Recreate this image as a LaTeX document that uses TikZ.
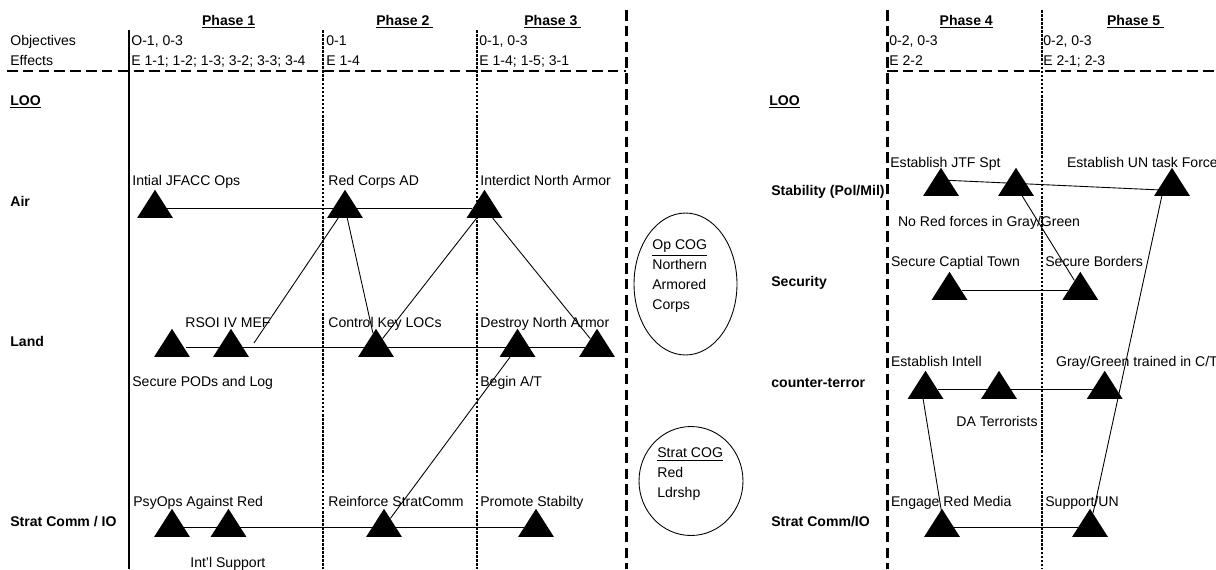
\documentclass[tikz,border=0pt]{standalone}
\usepackage{fontspec}
\setmainfont{Liberation Sans}
\usetikzlibrary{calc,shapes.geometric}

\begin{document}
\begin{tikzpicture}[x=0.02cm,y=-0.02cm,font=\fontsize{8pt}{11.4pt}\selectfont]

% ----------------------------
% Styles
% ----------------------------
\tikzset{
	txt/.style={anchor=base west,inner sep=0pt},
	rowlbl/.style={txt,font=\fontsize{8pt}{11.4pt}\selectfont\bfseries},
	tri/.style={isosceles triangle,isosceles triangle apex angle=65,shape border rotate=90,
		fill=black,inner sep=0pt,minimum size=0.56cm},
	link/.style={line width=0.5pt},
	divide/.style={line width=1.7pt,dash pattern=on 6pt off 3pt},
	phaseln/.style={line width=0.9pt,dash pattern=on 1.5pt off 0.8pt},
	mainln/.style={line width=1.7pt},
	cog/.style={ellipse,draw,line width=0.5pt,inner sep=0pt}
}

\useasboundingbox (0,0) rectangle (1216,569);

% ============================================================
% LEFT: phases 1-3
% ============================================================
% grid lines
\draw[divide] (7,71) -- (626,71);
\draw[mainln] (129,30) -- (129,569);
\draw[phaseln] (323,30) -- (323,569);
\draw[phaseln] (477,30) -- (477,569);
\draw[divide] (626,10) -- (626,569);

% headers
\node[rowlbl] (ph1) at (201.7,25) {\underline{Phase 1}};
\node[rowlbl] (ph2) at (376,25) {\underline{Phase 2\ }};
\node[rowlbl] (ph3) at (524,25) {\underline{Phase 3\ }};
\node[txt] (objL) at (10,45) {Objectives};
\node[txt] (effL) at (10,65) {Effects};
\node[txt] (obj1) at (131,45) {O-1, 0-3};
\node[txt] (eff1) at (131,65) {E 1-1; 1-2; 1-3; 3-2; 3-3; 3-4};
\node[txt] (obj2) at (326,45) {0-1};
\node[txt] (eff2) at (326,65) {E 1-4};
\node[txt] (obj3) at (479,45) {0-1, 0-3};
\node[txt] (eff3) at (479,65) {E 1-4; 1-5; 3-1};

% lines of operation
\node[rowlbl] (looL) at (10,105) {\underline{LOO}};
\node[rowlbl] (air) at (10,206) {Air};
\node[rowlbl] (land) at (10,346) {Land};
\node[rowlbl] (scL) at (10,526) {Strat Comm / IO};

% Air
\node[tri] (jfacc) at (155,208) {};
\node[tri] (redad) at (345,208) {};
\node[tri] (interdict) at (484.5,208) {};
\node[txt] (jfaccT) at (132,185) {Intial JFACC Ops};
\node[txt] (redadT) at (328,185) {Red Corps AD};
\node[txt] (interdictT) at (480,185) {Interdict North Armor};

% Land
\node[tri] (pods) at (172,347) {};
\node[tri] (rsoi) at (231,347) {};
\node[tri] (loc) at (376,347) {};
\node[tri] (destroy) at (517.5,347) {};
\node[tri] (armor) at (597,347) {};
\coordinate (rsoiend) at (254,343);
\node[txt] (rsoiT) at (185,327) {RSOI IV MEF};
\node[txt] (locT) at (328,327) {Control Key LOCs};
\node[txt] (destroyT) at (480,327) {Destroy North Armor};
\node[txt] (podsT) at (132,386) {Secure PODs and Log};
\node[txt] (beginT) at (480,386) {Begin A/T};

% Strat Comm / IO
\node[tri] (psyops) at (172,527) {};
\node[tri] (intl) at (228.5,527) {};
\node[tri] (reinforce) at (384,527) {};
\node[tri] (promote) at (536,527) {};
\node[txt] (psyopsT) at (133,506) {PsyOps Against Red};
\node[txt] (reinforceT) at (328,506) {Reinforce StratComm};
\node[txt] (promoteT) at (480,506) {Promote Stabilty};
\node[txt] (intlT) at (190,567) {Int'l Support};

% connectors
\draw[link] (jfacc) -- (interdict);
\draw[link] (redad) -- (rsoiend);
\draw[link] (redad) -- (loc);
\draw[link] (interdict) -- (loc);
\draw[link] (interdict) -- (armor);
\draw[link] ($(pods)+(14,0)$) -- (armor);
\draw[link] (destroy) -- (reinforce);
\draw[link] (psyops) -- (promote);

% centres of gravity
\node[cog,minimum width=2.06cm,minimum height=2.84cm] (opcog) at (685.5,284) {};
\node[anchor=north west,inner sep=0pt,align=left] (opcogT) at (652,239.5)
	{\underline{Op COG}\\Northern\\Armored\\Corps};
\node[cog,minimum width=2.08cm,minimum height=2.18cm] (stratcog) at (691,481) {};
\node[anchor=north west,inner sep=0pt,align=left] (stratcogT) at (657,447.5)
	{\underline{Strat COG}\\Red\\Ldrshp};

% ============================================================
% RIGHT: phases 4-5
% ============================================================
\draw[divide] (887,71) -- (1216,71);
\draw[divide] (887,10) -- (887,569);
\draw[phaseln] (1042,10) -- (1042,569);

\node[rowlbl] (ph4) at (939.3,25) {\underline{Phase 4}};
\node[rowlbl] (ph5) at (1106.7,25) {\underline{Phase 5\ }};
\node[txt] (obj4) at (889,45) {0-2, 0-3};
\node[txt] (eff4) at (889,65) {E 2-2};
\node[txt] (obj5) at (1043,45) {0-2, 0-3};
\node[txt] (eff5) at (1043,65) {E 2-1; 2-3};

\node[rowlbl] (looR) at (769,105) {\underline{LOO}};
\node[rowlbl] (stab) at (771,195) {Stability (Pol/Mil)};
\node[rowlbl] (secu) at (771,286) {Security};
\node[rowlbl] (cterr) at (771,387) {counter-terror};
\node[rowlbl] (scR) at (771,526) {Strat Comm/IO};

% Stability
\node[tri] (jtf) at (941,186) {};
\node[tri] (nored) at (1016,186) {};
\node[tri] (untf) at (1172,186) {};
\node[txt] (jtfT) at (890,167) {Establish JTF Spt};
\node[txt] (untfT) at (1066.7,167) {Establish UN task Force};
\node[txt] (noredT) at (897.7,226) {No Red forces in Gray/Green};

% Security
\node[tri] (capital) at (949.5,290) {};
\node[tri] (borders) at (1080.3,290) {};
\node[txt] (capitalT) at (890.7,266) {Secure Captial Town};
\node[txt] (bordersT) at (1045,266) {Secure Borders};

% counter-terror
\node[tri] (intell) at (925.5,389) {};
\node[tri] (daterr) at (999,389) {};
\node[tri] (ctrain) at (1104.7,389) {};
\node[txt] (intellT) at (890.7,366) {Establish Intell};
\node[txt] (ctrainT) at (1055.7,366) {Gray/Green trained in C/T};
\node[txt] (daterrT) at (956,426) {DA Terrorists};

% Strat Comm/IO
\node[tri] (media) at (942,527) {};
\node[tri] (supun) at (1090,527) {};
\node[txt] (mediaT) at (890.7,506) {Engage Red Media};
\node[txt] (supunT) at (1045,506) {Support/UN};

% connectors
\draw[link] ($(jtf)+(0,-6)$) -- ($(untf)+(0,4.5)$);
\draw[link] (nored) -- (borders);
\draw[link] (capital) -- (borders);
\draw[link] ($(untf)+(-8,0)$) -- (supun);
\draw[link] (intell) -- (ctrain);
\draw[link] ($(intell)+(-4,0)$) -- ($(media)+(2,0)$);
\draw[link] (media) -- (supun);
\end{tikzpicture}
\end{document}
